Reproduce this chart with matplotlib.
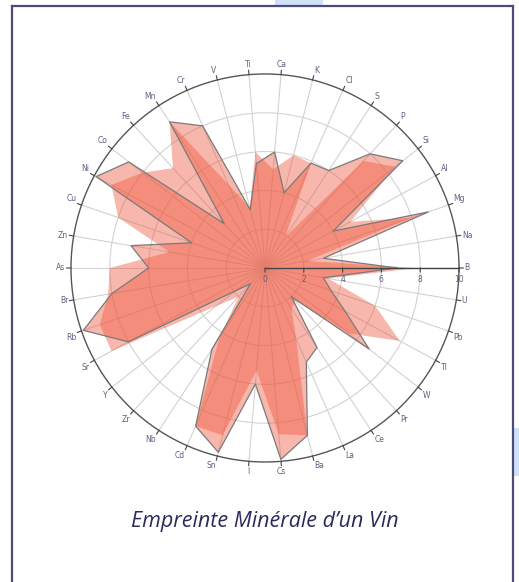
import numpy as np
import matplotlib.pyplot as plt
from matplotlib.lines import Line2D
from matplotlib.patches import Rectangle

elements = ["B", "Na", "Mg", "Al", "Si", "P", "S", "Cl", "K", "Ca",
            "Ti", "V", "Cr", "Mn", "Fe", "Co", "Ni", "Cu", "Zn", "As",
            "Br", "Rb", "Sr", "Y", "Zr", "Nb", "Cd", "Sn", "I", "Cs",
            "Ba", "La", "Ce", "Pr", "W", "Tl", "Pb", "U"]

# trace drawn with grey outline
vin_1 = [6.8, 3.05, 8.9, 4.0, 9.0, 8.0, 6.0, 5.9, 4.0, 6.0,
         5.4, 3.1, 8.0, 9.0, 3.1, 8.9, 9.9, 4.0, 7.0, 6.0,
         8.0, 9.9, 8.0, 1.9, 1.1, 5.0, 8.9, 9.8, 6.0, 9.9,
         8.9, 5.3, 4.9, 2.0, 6.8, 4.7, 3.6, 3.05]

# trace without outline
vin_2 = [7.8, 2.2, 8.0, 5.0, 8.5, 7.5, 1.9, 5.9, 6.0, 5.1,
         6.0, 3.2, 4.7, 9.0, 7.0, 8.0, 9.0, 8.0, 5.0, 8.0,
         8.2, 9.0, 9.0, 3.2, 2.0, 4.3, 8.9, 8.9, 5.3, 8.6,
         8.9, 4.0, 2.5, 2.3, 5.5, 7.9, 6.0, 3.3]

r_ticks = [0, 2, 4, 6, 8, 10]

n = len(elements)
theta = np.linspace(0, 2 * np.pi, n, endpoint=False)
th = np.append(theta, theta[0])

fill_col = "#EF553B"
txt_col = "#5f5f80"

fig = plt.figure(figsize=(5.19, 5.82), dpi=100)

# frame around the card
for xs, ys in [([12, 12], [6, 590]), ([12, 513], [6, 6]), ([513, 513], [6, 590])]:
    fig.add_artist(Line2D([x / 519 for x in xs], [1 - y / 582 for y in ys],
                          color="#4d4b78", lw=1.6, transform=fig.transFigure))
fig.add_artist(Rectangle((275 / 519, 1 - 6 / 582), 48 / 519, 6 / 582,
                         color="#cfe2f8", transform=fig.transFigure, lw=0))
fig.add_artist(Rectangle((514 / 519, 1 - 476 / 582), 5 / 519, 48 / 582,
                         color="#cfe2f8", transform=fig.transFigure, lw=0))

ax = fig.add_axes([0.1368, 0.2062, 0.7476, 0.6667], projection="polar")
ax.set_axisbelow(True)

v2 = np.append(vin_2, vin_2[0])
v1 = np.append(vin_1, vin_1[0])
ax.fill(th, v2, color=fill_col, alpha=0.42, lw=0)
ax.fill(th, v1, color=fill_col, alpha=0.42, lw=0)
ax.plot(th, v1, color="#7a7a7a", lw=0.9)

ax.set_ylim(0, 10)
ax.set_yticks(r_ticks[1:-1])
ax.set_yticklabels([])
ax.set_xticks(theta)
ax.set_xticklabels([])
ax.grid(True, color="#d2d2d2", lw=0.8)
ax.spines["polar"].set_color("#555555")
ax.spines["polar"].set_linewidth(1.0)

# category ticks and labels outside the circle
for t, lab in zip(theta, elements):
    c, s = np.cos(t), np.sin(t)
    ax.annotate("", (t, 10), xytext=(3.2 * c, 3.2 * s), textcoords="offset points",
                arrowprops=dict(arrowstyle="-", color="#444444", lw=0.8,
                                shrinkA=0, shrinkB=0), annotation_clip=False)
    ha = "left" if c > 0.15 else ("right" if c < -0.15 else "center")
    va = "bottom" if s > 0.3 else ("top" if s < -0.3 else "center")
    ax.annotate(lab, (t, 10), xytext=(4 * c, 4 * s), textcoords="offset points",
                ha=ha, va=va, fontsize=5.5, color=txt_col, annotation_clip=False)

# radial axis along B
ax.plot([0, 0], [0, 10], color="#444444", lw=1.0)
for r in r_ticks:
    ax.annotate(str(r), (0, r), xytext=(0, -8), textcoords="offset points",
                ha="center", va="center", fontsize=5.5, color=txt_col)
    ax.annotate("", (0, r), xytext=(0, -3), textcoords="offset points",
                arrowprops=dict(arrowstyle="-", color="#444444", lw=0.8,
                                shrinkA=0, shrinkB=0))

fig.text(265 / 519, 1 - 522 / 582, "Empreinte Minérale d\u2019un Vin",
         ha="center", va="center", fontsize=15.5, style="italic",
         family="Open Sans", color="#2b2a5e")

fig.savefig("out.png", dpi=100)
